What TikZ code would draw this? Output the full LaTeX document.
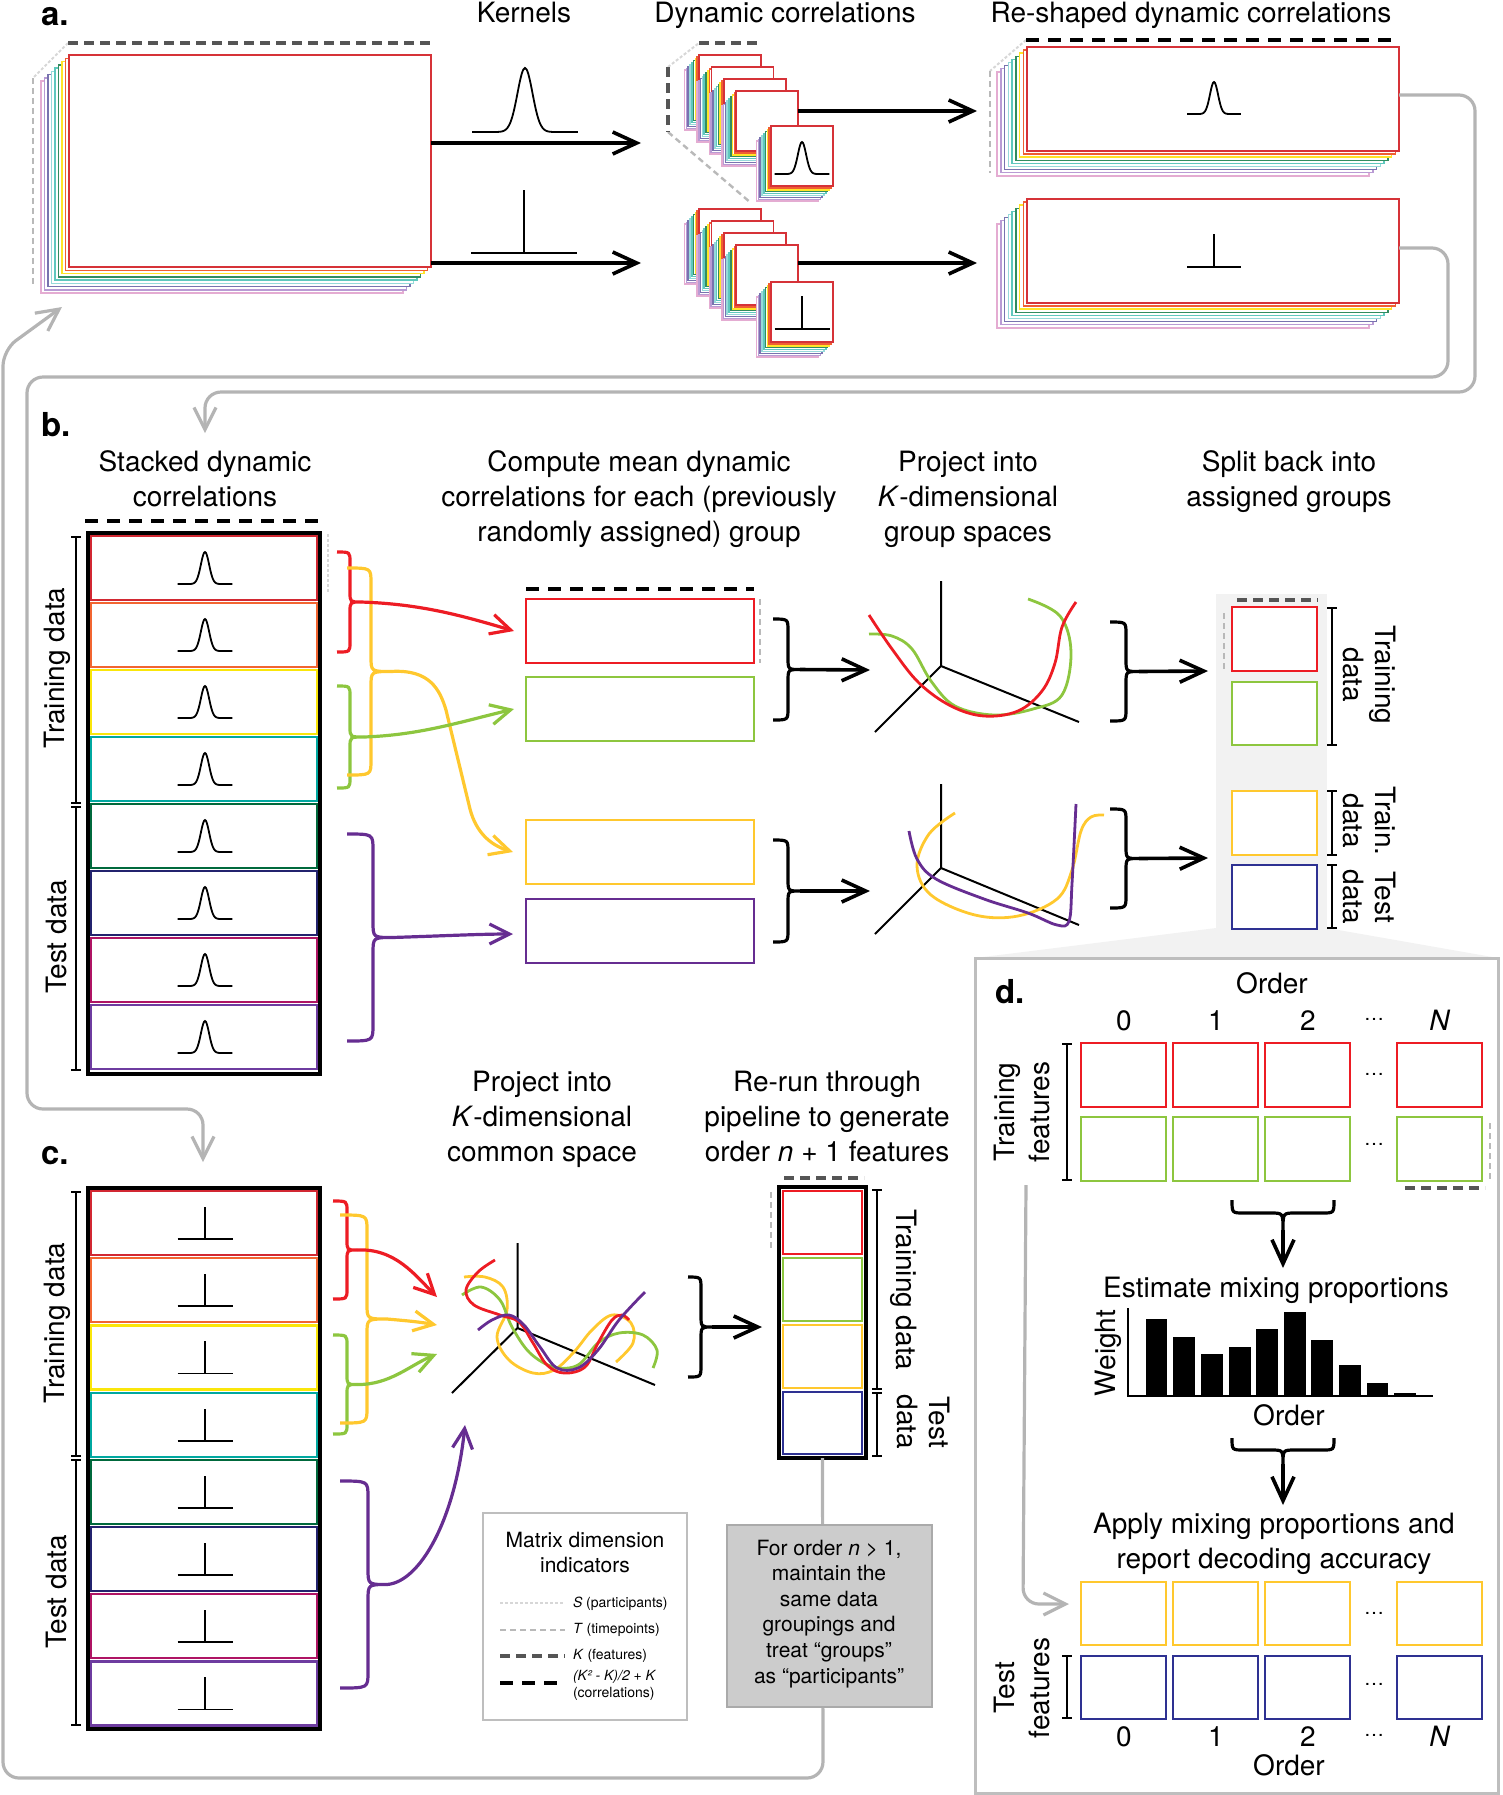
\documentclass[tikz,border=0pt]{standalone}
\usepackage{fontspec}
\setmainfont{TeX Gyre Heros}
\usetikzlibrary{arrows.meta}

\definecolor{cRed}{RGB}{237,28,36}
\definecolor{cGreen}{RGB}{141,198,63}
\definecolor{cYellow}{RGB}{255,200,46}
\definecolor{cPurple}{RGB}{102,45,145}
\definecolor{cBlue}{RGB}{46,49,146}
\definecolor{rRed}{RGB}{210,40,50}
\definecolor{rOrange}{RGB}{242,101,49}
\definecolor{rYellow}{RGB}{250,230,10}
\definecolor{rTeal}{RGB}{0,168,160}
\definecolor{rDkGreen}{RGB}{0,105,60}
\definecolor{rNavy}{RGB}{35,35,110}
\definecolor{rMagenta}{RGB}{175,20,100}
\definecolor{rPurple}{RGB}{110,60,160}
\definecolor{lRed}{RGB}{214,50,56}
\definecolor{lOrange}{RGB}{240,95,50}
\definecolor{lYellow}{RGB}{255,228,40}
\definecolor{lGreen}{RGB}{50,140,95}
\definecolor{lTeal}{RGB}{95,200,190}
\definecolor{lCyan}{RGB}{150,218,218}
\definecolor{lNavy}{RGB}{120,115,175}
\definecolor{lPurple}{RGB}{185,155,212}
\definecolor{lPink}{RGB}{228,172,210}
\definecolor{gLoop}{RGB}{180,180,180}
\definecolor{gFrame}{RGB}{190,190,190}
\definecolor{gHi}{RGB}{242,242,242}
\definecolor{gBoxF}{RGB}{204,204,204}
\definecolor{gBoxD}{RGB}{170,170,170}
\definecolor{dimS}{RGB}{215,215,215}
\definecolor{dimT}{RGB}{185,185,185}
\definecolor{dimK}{RGB}{85,85,85}

\newcommand{\ml}[1]{\begin{tabular}[t]{@{}c@{}}#1\end{tabular}}
\newcommand{\mlc}[1]{\begin{tabular}{@{}c@{}}#1\end{tabular}}
% rectangle node from pixel corners
\newcommand{\rbox}[6]{\node[#6, inner sep=0pt, outer sep=0pt, anchor=north west,
  minimum width={((#4)-(#2))*0.5pt}, minimum height={((#5)-(#3))*0.5pt}] (#1) at ({#2},{#3}) {};}
% coloured layers behind a matrix
\newcommand{\layerstack}[6]{%
  \foreach \col/\k in {lPink/8,lPurple/7,lNavy/6,lCyan/5,lTeal/4,lGreen/3,lYellow/2,lOrange/1}{%
    \draw[\col, line width=0.75pt, fill=white] ({#1+\k*#5},{#2+\k*#6}) rectangle ({#3+\k*#5},{#4+\k*#6});}}
\newcommand{\dsq}[3]{\layerstack{#2}{#3}{#2+62}{#3+60}{-1.8}{1.9}%
  \rbox{#1}{#2}{#3}{#2+62}{#3+60}{draw=lRed, line width=0.9pt, fill=white}}
% gaussian kernel: cx, baseline, halfwidth, height, s^2
\newcommand{\gk}[5]{\draw[line width=0.9pt] plot[domain=-1:1,samples=61,smooth] ({#1+#3*\x},{#2-#4*exp(-(\x*\x)/#5)});}
% delta kernel
\newcommand{\dk}[4]{\draw[line width=0.9pt] ({#1-#3},{#2}) -- ({#1+#3},{#2}) ({#1},{#2}) -- ({#1},{#2-#4});}
% right curly brace: name, style, xl, xm, yt, yb, xtip, r
\newcommand{\rbr}[8]{%
  \pgfmathsetmacro{\ymid}{(#5+#6)/2}%
  \draw[#2] ({#3},{#5}) .. controls ({#4},{#5}) .. ({#4},{#5+#8}) -- ({#4},{\ymid-#8})
    .. controls ({#4},{\ymid}) .. ({#7},{\ymid}) .. controls ({#4},{\ymid}) .. ({#4},{\ymid+#8})
    -- ({#4},{#6-#8}) .. controls ({#4},{#6}) .. ({#3},{#6});
  \coordinate (#1) at ({#7},{\ymid});}
% downward curly brace: name, style, xl, xr, yt, yh, ytip, r
\newcommand{\dbr}[8]{%
  \pgfmathsetmacro{\xmid}{(#3+#4)/2}%
  \draw[#2] ({#3},{#5}) .. controls ({#3},{#6}) .. ({#3+#8},{#6}) -- ({\xmid-#8},{#6})
    .. controls ({\xmid},{#6}) .. ({\xmid},{#7}) .. controls ({\xmid},{#6}) .. ({\xmid+#8},{#6})
    -- ({#4-#8},{#6}) .. controls ({#4},{#6}) .. ({#4},{#5});
  \coordinate (#1) at ({\xmid},{#7});}
% bracket with ticks
\newcommand{\brk}[3]{\draw[line width=0.9pt] ({#1},{#2}) -- ({#1},{#3}) ({#1-5},{#2}) -- ({#1+5},{#2}) ({#1-5},{#3}) -- ({#1+5},{#3});}

\tikzset{
  every node/.style={inner sep=0pt, outer sep=0pt},
  txt/.style={font=\fontsize{14}{17.5}\selectfont},
  txtn/.style={font=\fontsize{14}{16}\selectfont},
  small/.style={font=\fontsize{10.5}{12.8}\selectfont},
  tiny/.style={font=\fontsize{7}{8.5}\selectfont},
  dots/.style={font=\fontsize{10}{12}\selectfont},
  plabel/.style={font=\fontsize{16.5}{20}\selectfont\bfseries, anchor=base west},
  arr/.style={line width=1.8pt, -{Straight Barb[length=12pt,width=11pt]}},
  carr/.style={line width=1.6pt, -{Straight Barb[length=10pt,width=10pt]}},
  gloop/.style={gLoop, line width=1.6pt, rounded corners=8pt, -{Straight Barb[length=11pt,width=11pt]}},
  cbr/.style={line width=1.6pt},
  dS/.style={dimS, line width=1pt, dash pattern=on 1.5pt off 1pt},
  dT/.style={dimT, line width=1.2pt, dash pattern=on 3pt off 2pt},
  dK/.style={dimK, line width=1.6pt, dash pattern=on 5pt off 3pt},
  dC/.style={black, line width=2pt, dash pattern=on 6.5pt off 4.5pt},
  curve/.style={line width=1.4pt},
}

\begin{document}
\begin{tikzpicture}[x=0.5pt,y=-0.5pt]
\useasboundingbox (0,0) rectangle (1503,1795);

% ================= loop end points =================
\coordinate (aIn) at (62,307);
\coordinate (bIn) at (205,433);
\coordinate (cIn) at (203,1162);
\coordinate (lpB) at (1475,95);
\coordinate (lpC) at (1448,248);

% ================= panel a =================
\node[plabel] (la) at (41,25) {a.};
\node[txt, anchor=base] (tKern) at (524,22) {Kernels};
\node[txt, anchor=base] (tDyn) at (785,22) {Dynamic correlations};
\node[txt, anchor=base] (tRes) at (1191,22) {Re-shaped dynamic correlations};

\draw[dS] (68,43) -- (33,78);
\draw[dT] (33,78) -- (33,285);
\draw[dK] (68,43) -- (432,43);
\layerstack{69}{55}{431}{267}{-3.5}{3.25}
\rbox{aBig}{69}{55}{431}{267}{draw=lRed, line width=1pt, fill=white}

\gk{525}{132}{53}{64}{0.04}
\dk{524}{253}{53}{63}
\coordinate (aTip1) at (641,143);
\coordinate (aTip2) at (641,263);
\draw[arr] (aBig.east |- aTip1) -- (aTip1);
\draw[arr] (aBig.east |- aTip2) -- (aTip2);

% dynamic correlation stacks
\draw[dT] (668,132) -- (751,203);
\draw[dS] (668,67) -- (699,43);
\draw[dK] (699,43) -- (762,43);
\draw[dK, line width=2pt] (668,67) -- (668,132);
\foreach \i in {0,...,3}{\dsq{dA\i}{699+12.4*\i}{55+12*\i}}
\dsq{dAf}{771}{126}
\gk{802}{174}{27.5}{32}{0.045}
\foreach \i in {0,...,3}{\dsq{dB\i}{699+12.4*\i}{209+12*\i}}
\dsq{dBf}{771}{282}
\dk{802}{329}{27.5}{33}
\coordinate (dTip1) at (977,111);
\coordinate (dTip2) at (977,263);
\draw[arr] (dA3.east |- dTip1) -- (dTip1);
\draw[arr] (dB3.east |- dTip2) -- (dTip2);

% re-shaped
\draw[dS] (1026,40) -- (990,71);
\draw[dT] (990,71) -- (990,173);
\draw[dC] (1026,40) -- (1400,40);
\layerstack{1027}{47}{1399}{151}{-3.75}{3.1}
\rbox{rA}{1027}{47}{1399}{151}{draw=lRed, line width=1pt, fill=white}
\gk{1214}{114}{27}{32}{0.045}
\layerstack{1027}{199}{1399}{303}{-3.75}{3.1}
\rbox{rB}{1027}{199}{1399}{303}{draw=lRed, line width=1pt, fill=white}
\dk{1214}{267}{27}{33}

\draw[gloop] (rA.east |- lpB) -- (lpB) -- (1475,392) -- (bIn |- 0,392) -- (bIn);
\draw[gloop] (rB.east |- lpC) -- (lpC) -- (1448,377) -- (27,377) -- (27,1109) -- (cIn |- 0,1109) -- (cIn);

% ================= panel b =================
\node[plabel] (lb) at (41,436) {b.};
\node[txt, anchor=base] (tStack) at (205,471) {\ml{Stacked dynamic\\correlations}};
\node[txt, anchor=base] (tMean) at (639,471) {\ml{Compute mean dynamic\\correlations for each (previously\\randomly assigned) group}};
\node[txt, anchor=base] (tProjB) at (968,471) {\ml{Project into\\\textit{K}-dimensional\\group spaces}};
\node[txt, anchor=base] (tSplit) at (1289,471) {\ml{Split back into\\assigned groups}};

\draw[dC] (85,521) -- (323,521);
\draw[dS] (328,534) -- (328,594);
\rbox{bStack}{88}{533}{320}{1074}{draw=black, line width=2pt, fill=white}
\foreach \c [count=\i from 0] in {rRed,rOrange,rYellow,rTeal,rDkGreen,rNavy,rMagenta,rPurple}{
  \rbox{bRow\i}{91}{536+67*\i}{317}{600+67*\i}{draw=\c, line width=1.1pt}
  \gk{205}{584+67*\i}{27.5}{32}{0.045}
}
\brk{76}{537}{803}
\brk{76}{807}{1070}
\node[txt, rotate=90] (bTrainLbl) at (57,668) {Training data};
\node[txt, rotate=90] (bTestLbl) at (57,937) {Test data};

% mean boxes
\draw[dC] (526,589) -- (754,589);
\draw[dT] (760,599) -- (760,663);
\rbox{mRed}{526}{599}{754}{663}{draw=cRed, line width=1.4pt}
\rbox{mGreen}{526}{677}{754}{741}{draw=cGreen, line width=1.4pt}
\rbox{mYellow}{526}{820}{754}{884}{draw=cYellow, line width=1.4pt}
\rbox{mPurple}{526}{899}{754}{963}{draw=cPurple, line width=1.4pt}
\coordinate (mRedIn) at (514,631);
\coordinate (mGreenIn) at (514,709);
\coordinate (mYellowIn) at (513,852);
\coordinate (mPurpleIn) at (513,934);

\rbr{bBrR}{cRed, cbr}{337}{350}{552}{652}{361}{10}
\rbr{bBrG}{cGreen, cbr}{337}{350}{686}{788}{364}{10}
\rbr{bBrY}{cYellow, cbr}{347}{371}{568}{775}{391}{15}
\rbr{bBrP}{cPurple, cbr}{347}{373}{834}{1041}{392}{16}
\draw[carr, cYellow] (bBrY) .. controls (430,669) and (440,690) .. (446,710) -- (470,809) .. controls (476,832) and (490,845) .. (mYellowIn);
\draw[carr, cRed] (bBrR) .. controls (420,604) and (460,615) .. (mRedIn);
\draw[carr, cGreen] (bBrG) .. controls (420,735) and (460,722) .. (mGreenIn);
\draw[carr, cPurple] (bBrP) .. controls (440,936) and (480,934) .. (mPurpleIn);

% black braces to projections
\rbr{bBk1}{black, cbr}{773}{788}{619}{720}{800}{12}
\rbr{bBk2}{black, cbr}{773}{788}{840}{942}{800}{12}
\coordinate (pB1) at (870,670);
\coordinate (pB2) at (870,891);
\draw[arr] (bBk1) -- (pB1);
\draw[arr] (bBk2) -- (pB2);

% 3D group plots
\draw[line width=1pt] (941,581) -- (941,666) -- (875,732) (941,666) -- (1079,722);
\draw[cGreen, curve] plot[smooth, tension=0.6] coordinates {(869,634) (892,636) (912,649) (931,681) (955,706) (994,715) (1033,709) (1062,695) (1071,652) (1060,616) (1028,599)};
\draw[cRed, curve] plot[smooth, tension=0.6] coordinates {(869,615) (892,649) (919,683) (951,706) (984,716) (1018,711) (1042,691) (1055,663) (1062,627) (1076,602)};
\draw[line width=1pt] (941,784) -- (941,868) -- (875,934) (941,868) -- (1079,925);
\draw[cYellow, curve] plot[smooth, tension=0.6] coordinates {(955,813) (929,834) (917,866) (931,895) (975,915) (1018,916) (1057,899) (1072,870) (1081,831) (1091,817) (1104,815)};
\draw[cPurple, curve] plot[smooth, tension=0.6] coordinates {(909,831) (917,859) (936,879) (984,899) (1028,913) (1057,925) (1069,921) (1072,884) (1076,804)};

% split back
\fill[gHi] (1216,594) rectangle (1327,928);
\fill[gHi] (1216,928) -- (1327,928) -- (1498,958) -- (975,958) -- cycle;
\rbr{bBk3}{black, cbr}{1110}{1126}{622}{721}{1139}{12}
\rbr{bBk4}{black, cbr}{1110}{1126}{809}{908}{1139}{12}
\coordinate (sIn1) at (1208,671);
\coordinate (sIn2) at (1208,858);
\draw[arr] (bBk3) -- (sIn1);
\draw[arr] (bBk4) -- (sIn2);
\draw[dK] (1237,600) -- (1318,600);
\draw[dT] (1224,613) -- (1224,671);
\rbox{sRed}{1232}{607}{1317}{671}{draw=cRed, line width=1.3pt, fill=white}
\rbox{sGreen}{1232}{682}{1317}{745}{draw=cGreen, line width=1.3pt, fill=white}
\rbox{sYellow}{1232}{791}{1317}{855}{draw=cYellow, line width=1.3pt, fill=white}
\rbox{sBlue}{1232}{865}{1317}{929}{draw=cBlue, line width=1.3pt, fill=white}
\brk{1332}{608}{745}
\brk{1332}{791}{855}
\brk{1332}{865}{928}
\node[txtn, rotate=-90] (sTrainLbl) at (1366,675) {\mlc{Training\\data}};
\node[txtn, rotate=-90] (sTrain2Lbl) at (1366,821) {\mlc{Train.\\data}};
\node[txtn, rotate=-90] (sTestLbl) at (1366,897) {\mlc{Test\\data}};

% ================= panel c =================
\node[plabel] (lc) at (41,1164) {c.};
\rbox{cStack}{88}{1188}{320}{1729}{draw=black, line width=2pt, fill=white}
\foreach \c [count=\i from 0] in {rRed,rOrange,rYellow,rTeal,rDkGreen,rNavy,rMagenta,rPurple}{
  \rbox{cRow\i}{91}{1191+67.2*\i}{317}{1255+67.2*\i}{draw=\c, line width=1.1pt}
  \dk{205}{1239+67.2*\i}{27.5}{32}
}
\brk{76}{1192}{1456}
\brk{76}{1460}{1725}
\node[txt, rotate=90] (cTrainLbl) at (57,1323) {Training data};
\node[txt, rotate=90] (cTestLbl) at (57,1592) {Test data};

\node[txt, anchor=base] (tProjC) at (542,1091) {\ml{Project into\\\textit{K}-dimensional\\common space}};
\node[txt, anchor=base] (tRerun) at (827,1091) {\ml{Re-run through\\pipeline to generate\\order \textit{n} + 1 features}};

\coordinate (cInR) at (437,1297);
\coordinate (cInY) at (437,1325);
\coordinate (cInG) at (437,1354);
\coordinate (cInP) at (465,1425);
\rbr{cBrR}{cRed, cbr}{333}{347}{1201}{1299}{357}{10}
\rbr{cBrG}{cGreen, cbr}{333}{347}{1335}{1434}{357}{10}
\rbr{cBrY}{cYellow, cbr}{340}{367}{1215}{1423}{387}{15}
\rbr{cBrP}{cPurple, cbr}{340}{368}{1481}{1688}{387}{16}
\draw[carr, cRed] (cBrR) .. controls (395,1248) and (415,1275) .. (cInR);
\draw[carr, cYellow] (cBrY) .. controls (410,1321) and (420,1322) .. (cInY);
\draw[carr, cGreen] (cBrG) .. controls (390,1385) and (410,1365) .. (cInG);
\draw[carr, cPurple] (cBrP) .. controls (420,1582) and (455,1520) .. (cInP);

% common space plot
\draw[line width=1pt] (517.5,1243) -- (517.5,1328) -- (452,1393) (517.5,1328) -- (655,1385);
\draw[cYellow, curve] plot[smooth, tension=0.6] coordinates {(464,1277) (485,1277) (503,1287) (507,1310) (497,1337) (509,1360) (533,1373) (554,1370) (574,1352) (592,1330) (612,1315) (631,1323) (633,1343) (616,1362)};
\draw[cGreen, curve] plot[smooth, tension=0.6] coordinates {(462,1295) (481,1287) (500,1300) (512,1327) (530,1353) (554,1367) (578,1365) (598,1343) (619,1333) (643,1335) (657,1350) (653,1368)};
\draw[cRed, curve] plot[smooth, tension=0.6] coordinates {(495,1260) (478,1272) (466,1290) (474,1305) (500,1315) (519,1322) (533,1343) (547,1365) (564,1373) (585,1367) (598,1343) (612,1320) (622,1315) (629,1320)};
\draw[cPurple, curve] plot[smooth, tension=0.6] coordinates {(478,1330) (492,1320) (509,1315) (524,1325) (540,1347) (557,1368) (578,1368) (598,1350) (619,1320) (645,1292)};

\rbr{cBk1}{black, cbr}{688}{701}{1277}{1377}{712}{12}
\coordinate (rrIn) at (762,1327);
\draw[arr] (cBk1) -- (rrIn);

% re-run stack
\draw[dK] (784,1178) -- (864,1178);
\draw[dT] (771,1192) -- (771,1250);
\rbox{rerun}{779}{1187}{866}{1458}{draw=black, line width=2pt, fill=white}
\rbox{rrRed}{783}{1191}{862}{1254}{draw=cRed, line width=1.3pt}
\rbox{rrGreen}{783}{1258}{862}{1321}{draw=cGreen, line width=1.3pt}
\rbox{rrYellow}{783}{1325}{862}{1388}{draw=cYellow, line width=1.3pt}
\rbox{rrBlue}{783}{1392}{862}{1454}{draw=cBlue, line width=1.3pt}
\brk{877}{1190}{1389}
\brk{877}{1393}{1456}
\node[txt, rotate=-90] (rrTrainLbl) at (904,1290) {Training data};
\node[txtn, rotate=-90] (rrTestLbl) at (920,1422) {\mlc{Test\\data}};

% big return loop
\draw[gloop] (rerun.south) -- (823,1778) -- (3,1778) -- (3,350) -- (aIn);

% legend
\rbox{legend}{483}{1513}{687}{1720}{draw=gFrame, line width=1.3pt, fill=white}
\node[small, anchor=base] (legT) at (585,1547) {\ml{Matrix dimension\\indicators}};
\draw[dS] (500,1603) -- (565,1603);
\draw[dT] (500,1630) -- (565,1630);
\draw[dK] (500,1656) -- (565,1656);
\draw[dC] (500,1683) -- (565,1683);
\node[tiny, anchor=base west] (legS) at (573,1607) {\textit{S} (participants)};
\node[tiny, anchor=base west] (legTT) at (573,1633) {\textit{T} (timepoints)};
\node[tiny, anchor=base west] (legK) at (573,1659) {\textit{K} (features)};
\node[tiny, anchor=base west] (legC) at (573,1680) {\begin{tabular}[t]{@{}l@{}}\textit{(K² - K)/2 + K}\\(correlations)\end{tabular}};

% note box
\rbox{nBox}{727}{1525}{932}{1707}{draw=gBoxD, fill=gBoxF, line width=1.3pt}
\node[small, anchor=base] (nTxt) at (829,1555) {\ml{For order \textit{n} > 1,\\maintain the\\same data\\groupings and\\treat “groups”\\as “participants”}};

% ================= panel d =================
\rbox{dPanel}{975}{958}{1498}{1793}{draw=gFrame, line width=1.5pt}
\node[plabel] (ld) at (995,1003) {d.};
\node[txt, anchor=base] (dOrd1) at (1272,993) {Order};
\node[txt, anchor=base] (dn0) at (1124,1030) {0};
\node[txt, anchor=base] (dn1) at (1216,1030) {1};
\node[txt, anchor=base] (dn2) at (1308,1030) {2};
\node[dots] (dnd) at (1374,1019) {…};
\node[txt, anchor=base] (dnN) at (1440,1030) {\textit{N}};
\foreach \xa/\nm in {1081/0,1173/1,1265/2,1397/N}{
  \rbox{dR\nm}{\xa}{1043}{\xa+85}{1107}{draw=cRed, line width=1.3pt}
  \rbox{dG\nm}{\xa}{1117}{\xa+85}{1181}{draw=cGreen, line width=1.3pt}
  \rbox{dY\nm}{\xa}{1582}{\xa+85}{1645}{draw=cYellow, line width=1.3pt}
  \rbox{dB\nm}{\xa}{1656}{\xa+85}{1719}{draw=cBlue, line width=1.3pt}
}
\node[dots] (dDotR) at (1374,1074) {…};
\node[dots] (dDotG) at (1374,1144) {…};
\node[dots] (dDotY) at (1374,1613) {…};
\node[dots] (dDotB) at (1374,1684) {…};
\draw[dK] (1405,1188) -- (1485,1188);
\draw[dT] (1490,1123) -- (1490,1180);
\brk{1067}{1044}{1180}
\node[txt, rotate=90] (dTrainLbl) at (1025,1112) {\mlc{Training\\features}};

\dbr{dBr1}{black, cbr}{1232}{1334}{1200}{1213}{1230}{12}
\coordinate (dEst) at (1283,1268);
\draw[arr] (dBr1) -- (dEst);
\node[txt, anchor=base] (dEstLbl) at (1276,1297) {Estimate mixing proportions};

% bar chart
\foreach \bx/\by in {1145.7/1319,1173.3/1337,1201.2/1354,1229/1347,1256.2/1329,1284/1312,1311.2/1340,1339/1365,1366.9/1383,1394/1393}{
  \fill ({\bx},{\by}) rectangle ({\bx+21.5},1396);
}
\draw[line width=0.8pt] (1128,1308) -- (1128,1396) -- (1433,1396);
\node[txt, rotate=90] (dWeight) at (1108,1353) {Weight};
\node[txt, anchor=base] (dOrd2) at (1289,1425) {Order};

\dbr{dBr2}{black, cbr}{1232}{1334}{1438}{1450}{1464}{12}
\coordinate (dApp) at (1283,1505);
\draw[arr] (dBr2) -- (dApp);
\node[txt, anchor=base] (dApply) at (1274,1533) {\ml{Apply mixing proportions and\\report decoding accuracy}};

\brk{1067}{1656}{1718}
\node[txt, rotate=90] (dTestLbl) at (1025,1688) {\mlc{Test\\features}};
\node[txt, anchor=base] (dm0) at (1124,1746) {0};
\node[txt, anchor=base] (dm1) at (1216,1746) {1};
\node[txt, anchor=base] (dm2) at (1308,1746) {2};
\node[dots] (dmd) at (1374,1735) {…};
\node[txt, anchor=base] (dmN) at (1440,1746) {\textit{N}};
\node[txt, anchor=base] (dOrd3) at (1289,1775) {Order};

\coordinate (dSrc) at (1026,1185);
\coordinate (dDst) at (1069,1604);
\draw[gloop] (dSrc) -- (1023,1604) -- (dDst);
\end{tikzpicture}
\end{document}
